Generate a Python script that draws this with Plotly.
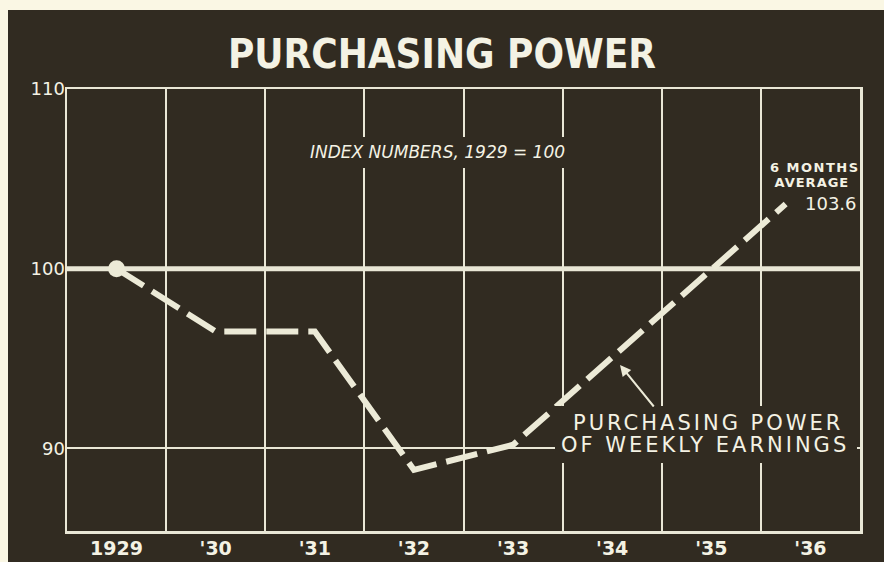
import plotly.graph_objects as go
import numpy as np

# ---------------- data ----------------
years = [1929, 1930, 1931, 1932, 1933, 1934, 1935, 1936]
year_labels = ["1929", "'30", "'31", "'32", "'33", "'34", "'35", "'36"]
# position of each reading; the last one is the 6-month average of 1936 (centred on its first half)
point_x = [1929, 1930, 1931, 1932, 1933, 1934, 1935, 1935.75]
purchasing_power = [100.0, 96.5, 96.5, 88.8, 90.2, 95.1, 99.9, 103.6]
y_ticks = [90, 100, 110]
BASE = 100

# ---------------- style ----------------
W, H = 884, 562
L, R, T, B = 67, 24, 89, 31
XR = [1928.5, 1936.5]
YR = [85.4, 110]
BG = "#312b21"
CREAM = "#faf7e4"
GRID = "#e9e7d6"
LINE = "#ecead7"
TEXT = "#f4f2e4"


def px(X):  # pixel -> paper x
    return (X - L) / (W - L - R)


def py(Y):  # pixel -> paper y
    return (H - B - Y) / (H - T - B)


def dx(X):  # pixel -> data x
    return XR[0] + px(X) * (XR[1] - XR[0])


def dy(Y):  # pixel -> data y
    return YR[0] + py(Y) * (YR[1] - YR[0])


fig = go.Figure()
fig.add_trace(go.Scatter(
    x=point_x, y=purchasing_power, mode="lines",
    line=dict(color=LINE, width=6, dash="32px,10px"),
    hoverinfo="skip"))
fig.add_trace(go.Scatter(
    x=point_x[:1], y=purchasing_power[:1], mode="markers",
    marker=dict(size=17, color=LINE), hoverinfo="skip"))

shapes = [
    # dark board
    dict(type="rect", xref="paper", yref="paper", x0=px(8), x1=px(W + 2),
         y0=py(H + 2), y1=py(10), fillcolor=BG, line=dict(width=0), layer="below"),
    # base line (1929 = 100)
    dict(type="line", xref="paper", yref="y", x0=0, x1=1, y0=BASE, y1=BASE,
         line=dict(color=GRID, width=5), layer="below"),
    # masks behind lettering
    dict(type="rect", xref="paper", yref="paper", x0=px(305), x1=px(570),
         y0=py(168), y1=py(137), fillcolor=BG, line=dict(width=0), layer="above"),
    dict(type="rect", xref="paper", yref="paper", x0=px(555), x1=px(857),
         y0=py(463), y1=py(406), fillcolor=BG, line=dict(width=0), layer="above"),
]

tip_x, tip_y = dx(620), dy(365)
annotations = [
    dict(text="INDEX NUMBERS, 1929 = 100", x=dx(437), y=dy(152), xref="x", yref="y",
         showarrow=False, xanchor="center", yanchor="middle",
         font=dict(family="DejaVu Sans", size=17, color=TEXT, style="italic")),
    dict(text="6 MONTHS", x=dx(815), y=dy(167), xref="x", yref="y", showarrow=False,
         font=dict(family="DejaVu Sans", size=13, color=TEXT, weight="bold")),
    dict(text="AVERAGE", x=dx(812), y=dy(182), xref="x", yref="y", showarrow=False,
         font=dict(family="DejaVu Sans", size=13, color=TEXT, weight="bold")),
    dict(text=f"{purchasing_power[-1]:.1f}", x=point_x[-1] + 0.17, y=purchasing_power[-1],
         xref="x", yref="y", showarrow=False, xanchor="left", yanchor="middle",
         font=dict(family="DejaVu Sans", size=18, color=TEXT)),
    dict(text="PURCHASING POWER", x=dx(708), y=dy(423), xref="x", yref="y", showarrow=False,
         font=dict(family="DejaVu Sans", size=21, color=TEXT)),
    dict(text="OF WEEKLY EARNINGS", x=dx(705), y=dy(445), xref="x", yref="y", showarrow=False,
         font=dict(family="DejaVu Sans", size=21, color=TEXT)),
    dict(text="", x=tip_x, y=tip_y, xref="x", yref="y", showarrow=True,
         ax=35, ay=43, arrowhead=2, arrowsize=1.1, arrowwidth=2, arrowcolor=LINE),
]

fig.update_layout(
    width=W, height=H, autosize=False, margin=dict(l=L, r=R, t=T, b=B),
    paper_bgcolor=CREAM, plot_bgcolor="rgba(0,0,0,0)", showlegend=False,
    title=dict(text="PURCHASING POWER", x=0.5, xanchor="center", xref="container",
               y=1 - 54 / H, yanchor="middle", yref="container",
               font=dict(family="DejaVu Sans Condensed, DejaVu Sans", size=40,
                         color=TEXT, weight="bold")),
    xaxis=dict(range=XR, tickvals=years, ticktext=year_labels, showgrid=False,
               automargin=False,
               zeroline=False, showline=True, mirror=True, linecolor=GRID, linewidth=2.5,
               ticks="", ticklabelstandoff=-1,
               tickfont=dict(family="DejaVu Sans", size=19, color=TEXT, weight="bold"),
               minor=dict(tickvals=[y + 0.5 for y in years[:-1]], showgrid=True,
                          gridcolor=GRID, gridwidth=2, ticks="")),
    yaxis=dict(range=YR, tickvals=y_ticks, showgrid=True, gridcolor=GRID, gridwidth=2,
               automargin=False,
               zeroline=False, showline=True, mirror=True, linecolor=GRID, linewidth=2.5,
               ticks="", ticklabelstandoff=-4,
               tickfont=dict(family="DejaVu Sans", size=18, color=TEXT)),
    shapes=shapes, annotations=annotations,
)

post = """
document.body.style.margin = '0';
document.body.style.overflow = 'hidden';
var gd = document.getElementById('{plot_id}');
var sp = {'PURCHASING POWER': '3px', 'OF WEEKLY EARNINGS': '3px', '6 MONTHS': '1.5px', 'AVERAGE': '1px'};
gd.querySelectorAll('.annotation-text').forEach(function(t){
  var k = t.textContent; if (sp[k]) { t.style.letterSpacing = sp[k]; }
});
"""
fig.write_html("out.html", post_script=post,
               config={"responsive": False, "displayModeBar": False, "staticPlot": True})
